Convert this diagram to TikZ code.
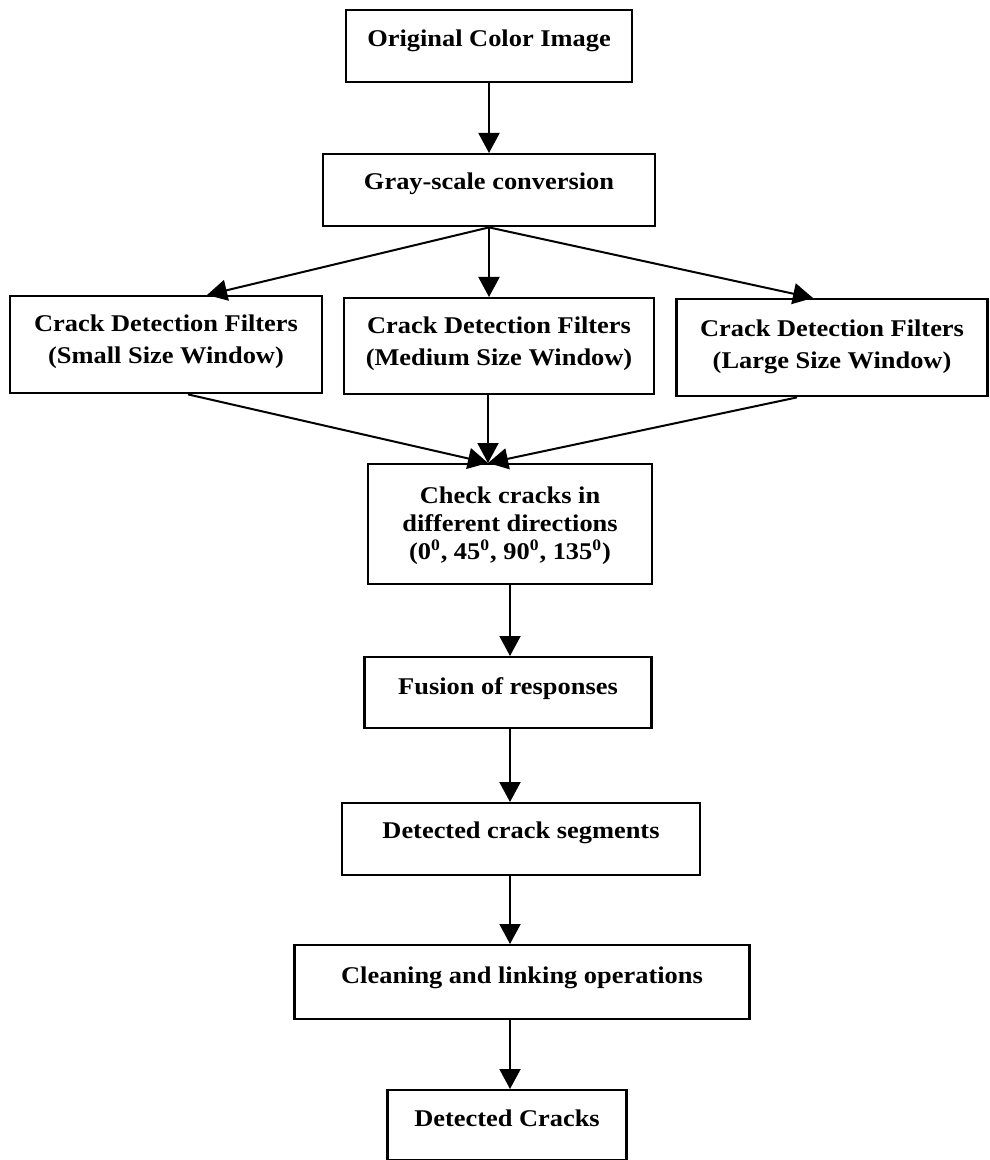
\documentclass[tikz,border=0pt]{standalone}
\usepackage{fontspec}
\setmainfont[FakeStretch=1.1]{Liberation Serif}
\usetikzlibrary{arrows.meta}

\begin{document}
\begin{tikzpicture}[x=0.5pt, y=-0.5pt,
  stepbox/.style={draw, line width=1.2pt, inner xsep=0pt, inner ysep=0pt,
    anchor=north, align=center, font=\bfseries\fontsize{12}{14}\selectfont},
  flow/.style={line width=1pt, -{Triangle[length=10pt,width=10.5pt]}}]

  % page frame
  \useasboundingbox (0,0) rectangle (989,1160);

  % processing steps (width, top-to-last-baseline, last-baseline-to-bottom)
  \node[stepbox, minimum width=143pt, text height=18pt, text depth=18pt]
    (orig) at (489,9) {Original Color Image};
  \node[stepbox, minimum width=166pt, text height=17.5pt, text depth=18.5pt]
    (gray) at (489,153) {Gray-scale conversion};

  \node[stepbox, minimum width=156pt, text height=33.5pt, text depth=15pt,
        font=\bfseries\fontsize{12}{16}\selectfont]
    (small) at (166,295) {Crack Detection Filters\\(Small Size Window)};
  \node[stepbox, minimum width=155pt, text height=33.5pt, text depth=14.5pt,
        font=\bfseries\fontsize{12}{16}\selectfont]
    (medium) at (499,297) {Crack Detection Filters\\(Medium Size Window)};
  \node[stepbox, minimum width=155.5pt, text height=34.5pt, text depth=14pt,
        font=\bfseries\fontsize{12}{16}\selectfont]
    (large) at (832,298) {Crack Detection Filters\\(Large Size Window)};

  \node[stepbox, minimum width=142pt, text height=47.5pt, text depth=12.5pt]
    (check) at (510,463) {Check cracks in\\different directions\\(0\textsuperscript{0}, 45\textsuperscript{0}, 90\textsuperscript{0}, 135\textsuperscript{0})};

  \node[stepbox, minimum width=143.5pt, text height=18.5pt, text depth=17pt]
    (fusion) at (508,656) {Fusion of responses};
  \node[stepbox, minimum width=179pt, text height=17.5pt, text depth=18.5pt]
    (segments) at (521,802) {Detected crack segments};
  \node[stepbox, minimum width=227.5pt, text height=19pt, text depth=18pt]
    (cleaning) at (522,944) {Cleaning and linking operations};
  \node[stepbox, minimum width=119.5pt, text height=18pt, text depth=17pt]
    (cracks) at (507,1089) {Detected Cracks};

  % connectors
  \draw[flow] (orig.south) -- (gray.north);
  \draw[flow] (gray.south) -- ([xshift=20.5pt]small.north);
  \draw[flow] (gray.south) -- (gray.south |- medium.north);
  \draw[flow] (gray.south) -- ([xshift=-9.5pt]large.north);

  \coordinate (join) at ([xshift=-11pt]check.north);
  \draw[flow] ([xshift=11pt]small.south) -- (join);
  \draw[flow] (medium.south -| join) -- (join);
  \draw[flow] ([xshift=-17.5pt]large.south) -- (join);

  \draw[flow] (check.south) -- (check.south |- fusion.north);
  \draw[flow] (fusion.south -| check.south) -- (check.south |- segments.north);
  \draw[flow] (segments.south -| check.south) -- (check.south |- cleaning.north);
  \draw[flow] (cleaning.south -| check.south) -- (check.south |- cracks.north);
\end{tikzpicture}
\end{document}
